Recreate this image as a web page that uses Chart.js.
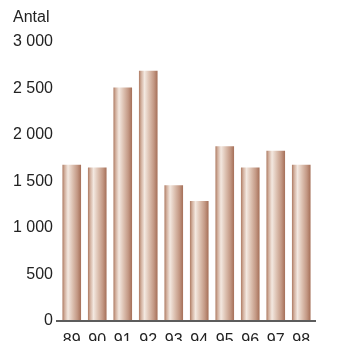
<!DOCTYPE html>
<html>
<head>
<meta charset="utf-8">
<script src="https://cdn.jsdelivr.net/npm/chart.js@4"></script>
<style>
  html, body { margin: 0; padding: 0; background: #ffffff; }
  #wrap { width: 352px; height: 341px; position: relative; }
</style>
</head>
<body>
<div id="wrap"><canvas id="chart"></canvas></div>
<script>
// Antal per år, 1989–1998
const years = ['89', '90', '91', '92', '93', '94', '95', '96', '97', '98'];
const antal = [1680, 1650, 2510, 2690, 1460, 1290, 1880, 1650, 1830, 1680];
const yTicks = [0, 500, 1000, 1500, 2000, 2500, 3000];
const unitLabel = 'Antal';

const FONT = '"Liberation Sans", Arial, Helvetica, sans-serif';
const TEXT = '#222222';

// thousands separated by a space: 2500 -> "2 500"
const fmt = v => String(v).replace(/\B(?=(\d{3})+(?!\d))/g, ' ');

// cylinder-like horizontal shading for each bar
function barFill(ctx) {
  const chart = ctx.chart;
  if (!chart.chartArea || !chart.scales.x) return '#c9a08a';
  const xs = chart.scales.x;
  const cx = xs.getPixelForValue(ctx.dataIndex);
  const w = (chart.chartArea.width / years.length) * 0.73;
  const g = chart.ctx.createLinearGradient(cx - w / 2, 0, cx + w / 2, 0);
  g.addColorStop(0.00, '#ad7a62');
  g.addColorStop(0.12, '#d2b09e');
  g.addColorStop(0.30, '#f3e8e0');
  g.addColorStop(0.55, '#dcc0b0');
  g.addColorStop(0.80, '#c39884');
  g.addColorStop(1.00, '#a56f58');
  return g;
}

// base line under the bars, a little wider than the plot area
const baseLine = {
  id: 'baseLine',
  afterDatasetsDraw(chart) {
    const { ctx, chartArea, scales } = chart;
    const y = scales.y.getPixelForValue(0);
    ctx.save();
    ctx.strokeStyle = '#5c5c5c';
    ctx.lineWidth = 2;
    ctx.beginPath();
    ctx.moveTo(chartArea.left - 3, y);
    ctx.lineTo(chartArea.right + 2, y);
    ctx.stroke();
    ctx.restore();
  }
};

// unit caption above the value axis
const unitCaption = {
  id: 'unitCaption',
  afterDraw(chart) {
    const ctx = chart.ctx;
    ctx.save();
    ctx.font = '16px ' + FONT;
    ctx.fillStyle = TEXT;
    ctx.textAlign = 'left';
    ctx.textBaseline = 'middle';
    ctx.fillText(unitLabel, 13, 18);
    ctx.restore();
  }
};

new Chart(document.getElementById('chart'), {
  type: 'bar',
  data: {
    labels: years,
    datasets: [{
      data: antal,
      backgroundColor: barFill,
      borderWidth: 0,
      categoryPercentage: 1,
      barPercentage: 0.73
    }]
  },
  options: {
    responsive: true,
    maintainAspectRatio: false,
    animation: false,
    devicePixelRatio: 1,
    layout: { padding: { top: 42, right: 38, bottom: 0, left: 0 } },
    plugins: {
      legend: { display: false },
      tooltip: { enabled: false },
      title: { display: false }
    },
    scales: {
      x: {
        offset: true,
        grid: { display: false, drawTicks: false },
        border: { display: false },
        ticks: {
          color: TEXT,
          font: { family: FONT, size: 16 },
          padding: 10,
          maxRotation: 0,
          autoSkip: false
        },
        afterFit(scale) { scale.height = 20; }
      },
      y: {
        min: 0,
        max: 3000,
        afterBuildTicks(scale) { scale.ticks = yTicks.map(v => ({ value: v })); },
        grid: { display: false, drawTicks: false },
        border: { display: false },
        ticks: {
          color: TEXT,
          font: { family: FONT, size: 16 },
          padding: 6,
          callback: v => fmt(v)
        },
        afterFit(scale) { scale.width = 59; }
      }
    }
  },
  plugins: [baseLine, unitCaption]
});
</script>
</body>
</html>
